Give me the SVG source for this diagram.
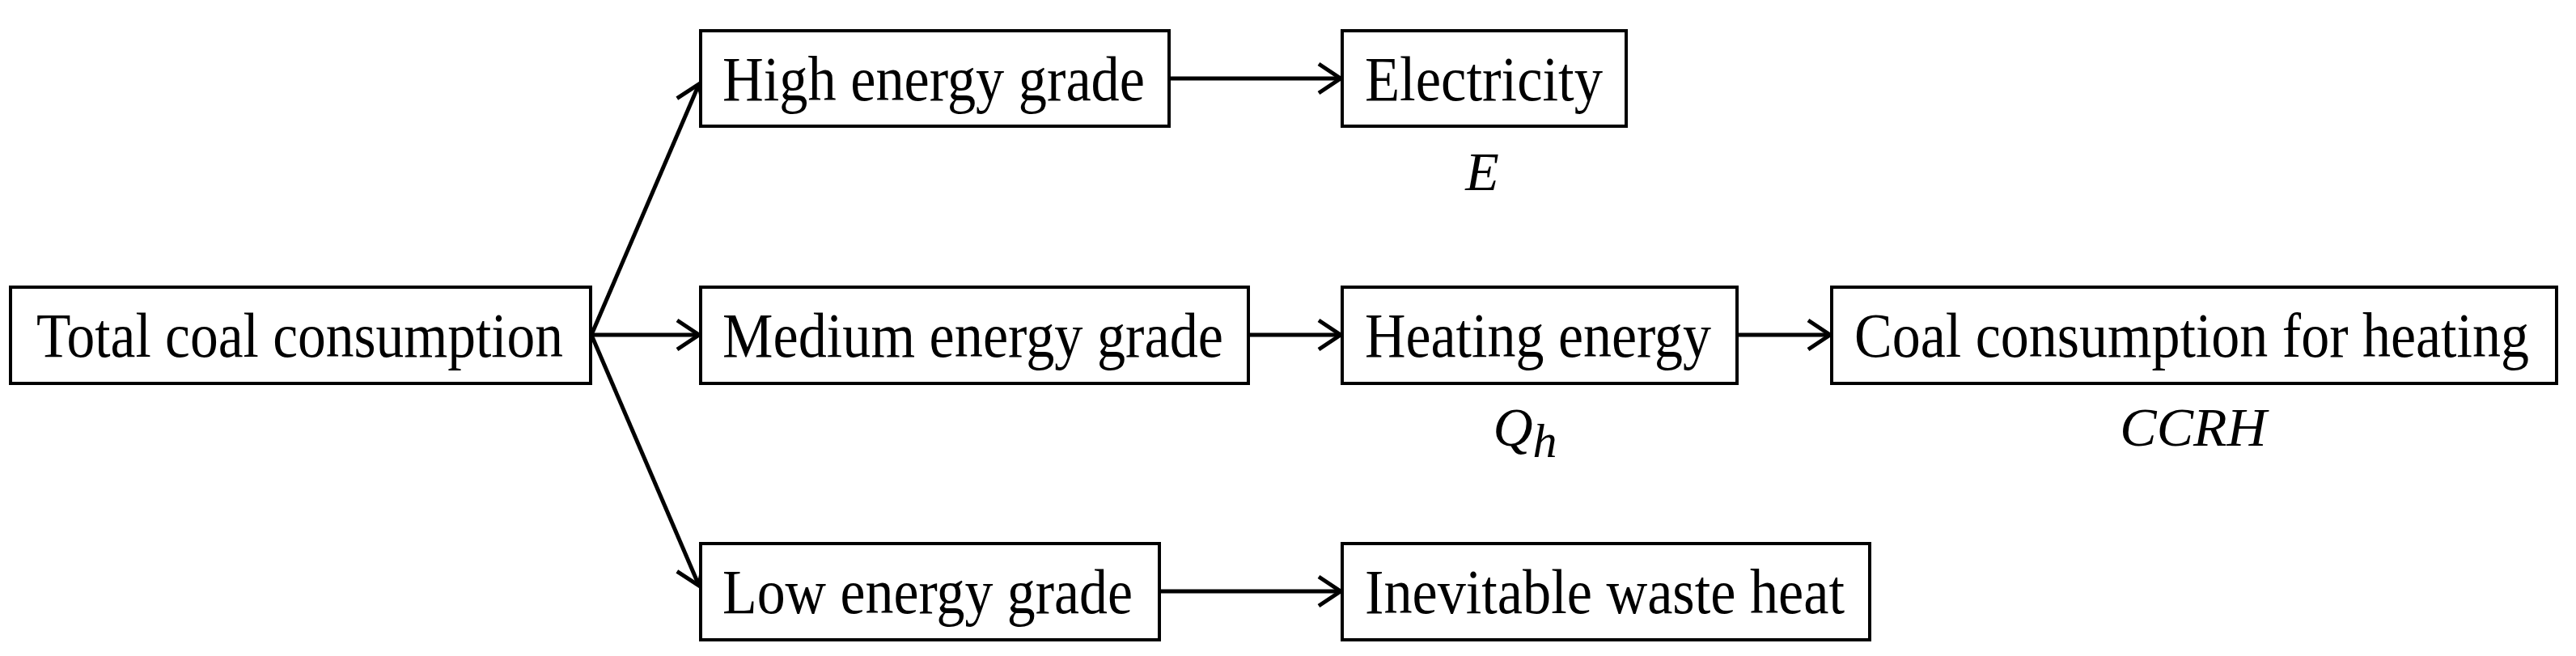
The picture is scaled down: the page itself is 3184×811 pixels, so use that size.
<svg xmlns="http://www.w3.org/2000/svg" width="3184" height="811" viewBox="0 0 3184 811">
<style>
.box{fill:#fff;stroke:#000;stroke-width:4}
.t{font-family:"Liberation Serif",serif;font-size:78px;fill:#000}
.m{font-family:"Liberation Serif",serif;font-style:italic;font-size:68px;fill:#000}
.c{stroke:#000;stroke-width:5;fill:none;marker-end:url(#a)}
</style>
<defs><marker id="a" viewBox="0 0 30 40" refX="29" refY="20" markerWidth="30" markerHeight="40" markerUnits="userSpaceOnUse" orient="auto" style="overflow:visible"><path d="M2,2 L29,20 L2,38" fill="none" stroke="#000" stroke-width="5" stroke-linejoin="miter"/></marker></defs>
<rect width="3184" height="811" fill="#fff"/>
<g id="connectors">
<line class="c" x1="731" y1="414" x2="864" y2="104"/>
<line class="c" x1="731" y1="414" x2="864" y2="414"/>
<line class="c" x1="731" y1="414" x2="864" y2="724"/>
<line class="c" x1="1445" y1="97" x2="1657" y2="97"/>
<line class="c" x1="1543" y1="414" x2="1657" y2="414"/>
<line class="c" x1="2147" y1="414" x2="2262" y2="414"/>
<line class="c" x1="1433" y1="731" x2="1657" y2="731"/>
</g>
<g id="total"><rect class="box" x="13" y="355" width="717" height="119"/><text class="t" x="45" y="441" textLength="651" lengthAdjust="spacingAndGlyphs">Total coal consumption</text></g>
<g id="high"><rect class="box" x="866" y="38" width="579" height="118"/><text class="t" x="893" y="124" textLength="522" lengthAdjust="spacingAndGlyphs">High energy grade</text></g>
<g id="medium"><rect class="box" x="866" y="355" width="677" height="119"/><text class="t" x="893" y="441" textLength="619" lengthAdjust="spacingAndGlyphs">Medium energy grade</text></g>
<g id="low"><rect class="box" x="866" y="672" width="567" height="119"/><text class="t" x="893" y="758" textLength="507" lengthAdjust="spacingAndGlyphs">Low energy grade</text></g>
<g id="electricity"><rect class="box" x="1659" y="38" width="351" height="118"/><text class="t" x="1687" y="124" textLength="294" lengthAdjust="spacingAndGlyphs">Electricity</text><text class="m" x="1832" y="235" text-anchor="middle">E</text></g>
<g id="heating"><rect class="box" x="1659" y="355" width="488" height="119"/><text class="t" x="1687" y="441" textLength="428" lengthAdjust="spacingAndGlyphs">Heating energy</text><text class="m" x="1885" y="551" text-anchor="middle">Q<tspan font-size="60" dy="14">h</tspan></text></g>
<g id="coalheating"><rect class="box" x="2264" y="355" width="896" height="119"/><text class="t" x="2292" y="441" textLength="834" lengthAdjust="spacingAndGlyphs">Coal consumption for heating</text><text class="m" x="2711" y="551" text-anchor="middle">CCRH</text></g>
<g id="waste"><rect class="box" x="1659" y="672" width="652" height="119"/><text class="t" x="1687" y="758" textLength="593" lengthAdjust="spacingAndGlyphs">Inevitable waste heat</text></g>
</svg>
